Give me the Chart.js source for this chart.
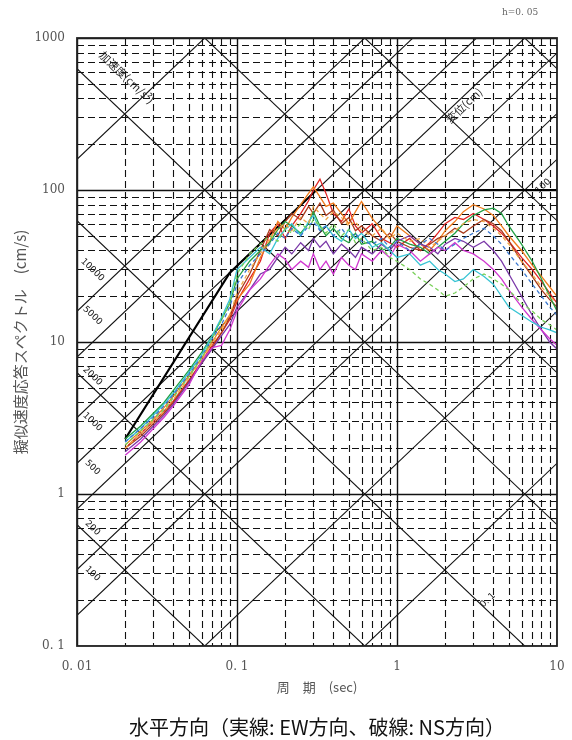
<!DOCTYPE html>
<html>
<head>
<meta charset="utf-8">
<script src="https://cdn.jsdelivr.net/npm/chart.js@4.4.1/dist/chart.umd.min.js"></script>
<style>
  html, body { margin: 0; padding: 0; background: #fff; }
  canvas { display: block; }
</style>
</head>
<body>
<canvas id="spectrum" width="572" height="740"></canvas>
<script>
// periods (sec)
var periods = [0.02, 0.025, 0.03, 0.035, 0.04, 0.05, 0.06, 0.07, 0.08, 0.09,
  0.1, 0.12, 0.14, 0.16, 0.18, 0.2, 0.22, 0.25, 0.28, 0.3,
  0.33, 0.36, 0.4, 0.45, 0.5, 0.55, 0.6, 0.7, 0.8, 0.9,
  1.0, 1.2, 1.4, 1.6, 1.8, 2.0, 2.3, 2.6, 3.0, 3.5,
  4.0, 4.5, 5.0, 6.0, 7.0, 8.0, 9.0, 10]

// pseudo velocity response (cm/s), one array per record
var redEW = [2.0, 2.5, 3.0, 3.5, 4.1, 5.6, 7.4, 9.5, 11.5, 14, 18.5, 26, 34, 52, 60, 48, 58, 70, 85, 100,
  118, 95, 70, 62, 75, 58, 52, 60, 48, 45, 42, 48, 40, 45, 52, 60, 66, 64, 70, 64, 58, 52, 46, 36, 30, 25, 21, 18]
var orangeEW = [2.1, 2.6, 3.1, 3.7, 4.4, 6.0, 7.8, 10, 12.5, 15, 19, 24, 36, 46, 62, 55, 66, 80, 95, 105,
  90, 78, 82, 70, 60, 72, 84, 65, 55, 48, 58, 50, 44, 40, 46, 54, 62, 72, 80, 75, 68, 58, 50, 40, 32, 27, 23, 20]
var greenEW = [2.3, 2.8, 3.4, 4.0, 4.8, 6.5, 8.5, 11, 14, 18, 26, 34, 40, 45, 55, 62, 58, 52, 60, 72,
  58, 50, 56, 48, 45, 52, 44, 46, 40, 42, 48, 44, 42, 38, 42, 46, 52, 60, 68, 74, 76, 70, 58, 44, 34, 26, 20, 16]
var cyanEW = [2.2, 2.7, 3.3, 3.9, 4.6, 6.3, 8.2, 11, 14.5, 19, 30, 36, 42, 38, 48, 55, 60, 50, 62, 68,
  55, 58, 50, 46, 55, 48, 52, 42, 45, 40, 36, 38, 32, 34, 30, 28, 25, 26, 30, 27, 24, 20, 17, 15, 13.5, 12.5, 12, 11.5]
var magentaEW = [1.8, 2.2, 2.7, 3.2, 3.8, 5.2, 7.5, 9.2, 9.5, 12, 16, 22, 26, 32, 38, 35, 30, 34, 31, 38,
  30, 34, 28, 36, 32, 30, 38, 34, 40, 36, 44, 40, 34, 38, 42, 40, 45, 40, 38, 34, 30, 26, 22, 17, 14, 12, 10.5, 9.5]
var purpleEW = [1.9, 2.3, 2.8, 3.3, 3.9, 5.4, 7.2, 9.0, 11, 13, 17, 22, 28, 30, 36, 42, 38, 45, 40, 48,
  42, 46, 38, 44, 40, 36, 42, 38, 44, 40, 46, 50, 44, 42, 38, 44, 48, 46, 42, 46, 40, 34, 28, 20, 15, 12, 10, 9]
var brownEW = [2.0, 2.4, 2.9, 3.4, 4.0, 5.5, 7.2, 9.2, 11.5, 14.5, 20, 28, 40, 55, 50, 62, 70, 64, 78, 70,
  82, 68, 74, 60, 66, 54, 58, 50, 46, 52, 46, 42, 40, 44, 48, 50, 56, 52, 58, 64, 60, 54, 46, 34, 27, 22, 19, 17]
var limeNS = [2.1, 2.6, 3.1, 3.6, 4.3, 5.9, 7.8, 10.5, 14, 18, 28, 38, 44, 50, 46, 56, 52, 60, 55, 64,
  58, 52, 60, 50, 55, 45, 48, 40, 42, 36, 34, 30, 26, 24, 22, 20, 21, 23, 26, 28, 26, 24, 22, 18, 16, 14, 13, 12]
var blueNS = [2.2, 2.7, 3.2, 3.8, 4.5, 6.1, 8.0, 10.5, 13, 17, 24, 32, 38, 44, 52, 48, 56, 50, 58, 62,
  54, 58, 50, 56, 48, 52, 46, 44, 48, 42, 46, 40, 44, 48, 44, 40, 44, 48, 52, 56, 50, 44, 38, 30, 24, 20, 17, 15]
var amberNS = [2.0, 2.5, 3.0, 3.5, 4.2, 5.8, 7.6, 9.8, 12, 15, 21, 30, 38, 48, 56, 60, 54, 66, 60, 78,
  70, 64, 72, 66, 58, 62, 54, 50, 56, 48, 52, 46, 48, 42, 46, 50, 54, 60, 64, 62, 56, 50, 44, 34, 28, 23, 20, 18]

// design spectrum (thick black)
var designPeriods = [0.02, 0.09, 0.314, 10]
var designValues = [2.3, 28.5, 100, 100]

// tripartite grid: acceleration (cm/s2) and displacement (cm) lines
var accelLines = [1, 10, 100, 200, 500, 1000, 2000, 5000, 10000, 100000]
var dispLines = [0.001, 0.01, 0.1, 1, 10, 100, 1000]
var accelLabels = [10000, 5000, 2000, 1000, 500, 200, 100]

// axis ticks
var periodTicks = [0.01, 0.1, 1, 10]
var periodTickLabels = ["0. 01", "0. 1", "1", "10"]
var svTicks = [0.1, 1, 10, 100, 1000]
var svTickLabels = ["0. 1", "1", "10", "100", "1000"]
var minorSteps = [2, 3, 4, 5, 6, 7, 8, 9]

var TWO_PI = 2 * Math.PI

function pairs(xs, ys) {
  return xs.map(function (t, i) { return {x: t, y: ys[i]} })
}

function record(values, color, dashed) {
  return {
    data: pairs(periods, values),
    showLine: true,
    borderColor: color,
    borderWidth: 1.3,
    borderDash: dashed ? [4, 3] : [],
    pointRadius: 0,
    tension: 0
  }
}

function noPad(s) {
  s.paddingLeft = 0
  s.paddingRight = 0
  s.paddingTop = 0
  s.paddingBottom = 0
}

var tripartite = {
  id: "tripartite",
  beforeDatasetsDraw: function (chart) {
    var ctx = chart.ctx
    var a = chart.chartArea
    var xs = chart.scales.x
    var ys = chart.scales.y
    ctx.save()
    ctx.beginPath()
    ctx.rect(a.left, a.top, a.right - a.left, a.bottom - a.top)
    ctx.clip()

    // dashed minor grid
    ctx.strokeStyle = "#111"
    ctx.lineWidth = 1.1
    ctx.setLineDash([7, 4])
    periodTicks.slice(0, -1).forEach(function (d) {
      minorSteps.forEach(function (m) {
        var px = Math.round(xs.getPixelForValue(d * m)) + 0.5
        ctx.beginPath(); ctx.moveTo(px, a.top); ctx.lineTo(px, a.bottom); ctx.stroke()
      })
    })
    svTicks.slice(0, -1).forEach(function (d) {
      minorSteps.forEach(function (m) {
        var py = Math.round(ys.getPixelForValue(d * m)) + 0.5
        ctx.beginPath(); ctx.moveTo(a.left, py); ctx.lineTo(a.right, py); ctx.stroke()
      })
    })

    // solid decade lines
    ctx.setLineDash([])
    ctx.lineWidth = 1.4
    periodTicks.forEach(function (v) {
      var px = Math.round(xs.getPixelForValue(v)) + 0.5
      ctx.beginPath(); ctx.moveTo(px, a.top); ctx.lineTo(px, a.bottom); ctx.stroke()
    })
    svTicks.forEach(function (v) {
      var py = Math.round(ys.getPixelForValue(v)) + 0.5
      ctx.beginPath(); ctx.moveTo(a.left, py); ctx.lineTo(a.right, py); ctx.stroke()
    })

    // diagonals
    ctx.lineWidth = 1.1
    var t0 = 0.01, t1 = 10
    accelLines.forEach(function (sa) {
      ctx.beginPath()
      ctx.moveTo(xs.getPixelForValue(t0), ys.getPixelForValue(sa * t0 / TWO_PI))
      ctx.lineTo(xs.getPixelForValue(t1), ys.getPixelForValue(sa * t1 / TWO_PI))
      ctx.stroke()
    })
    dispLines.forEach(function (sd) {
      ctx.beginPath()
      ctx.moveTo(xs.getPixelForValue(t0), ys.getPixelForValue(TWO_PI * sd / t0))
      ctx.lineTo(xs.getPixelForValue(t1), ys.getPixelForValue(TWO_PI * sd / t1))
      ctx.stroke()
    })

    // slope of the diagonals in pixels
    var ang = Math.atan2(ys.getPixelForValue(1) - ys.getPixelForValue(10),
      xs.getPixelForValue(1) - xs.getPixelForValue(0.1))

    function rotText(text, t, sv, rot, font) {
      ctx.save()
      ctx.translate(xs.getPixelForValue(t), ys.getPixelForValue(sv))
      ctx.rotate(rot)
      ctx.font = font
      ctx.fillStyle = "#222"
      ctx.textAlign = "center"
      ctx.textBaseline = "middle"
      ctx.fillText(text, 0, 0)
      ctx.restore()
    }

    accelLabels.forEach(function (sa) {
      rotText(String(sa), 0.0125, 1.5 * sa * 0.0125 / TWO_PI, ang, "9px 'DejaVu Sans'")
    })
    rotText("加速度(cm/s²)", 0.0205, 550, ang, "11px 'Noto Sans CJK JP'")
    rotText("変位(cm)", 2.62, 360, -ang, "11px 'Noto Sans CJK JP'")
    rotText("100", 8.2, 106, -ang, "9px 'DejaVu Sans'")
    rotText("0. 1", 3.7, 0.2, -ang, "9px 'DejaVu Sans'")

    ctx.restore()
  },
  afterDraw: function (chart) {
    var ctx = chart.ctx
    var a = chart.chartArea
    ctx.save()
    ctx.strokeStyle = "#222"
    ctx.lineWidth = 1.8
    ctx.strokeRect(a.left, a.top, a.right - a.left, a.bottom - a.top)
    ctx.font = "9px 'DejaVu Serif'"
    ctx.fillStyle = "#666"
    ctx.textAlign = "center"
    ctx.textBaseline = "middle"
    ctx.fillText("h=0. 05", 520, 13)
    ctx.restore()
  }
}

var datasets = [
  record(limeNS, "#78d058", true),
  record(blueNS, "#3a78d0", true),
  record(amberNS, "#f0a848", true),
  record(cyanEW, "#38c4d4", false),
  record(magentaEW, "#d038d0", false),
  record(purpleEW, "#7a38a8", false),
  record(greenEW, "#22a044", false),
  record(brownEW, "#a83a1c", false),
  record(orangeEW, "#f07c1c", false),
  record(redEW, "#e02424", false),
  {
    data: pairs(designPeriods, designValues),
    showLine: true,
    borderColor: "#000",
    borderWidth: 2.2,
    pointRadius: 0
  }
]

var tickFont = {family: "'DejaVu Serif'", size: 12}

new Chart(document.getElementById("spectrum").getContext("2d"), {
  type: "scatter",
  data: {datasets: datasets},
  options: {
    responsive: false,
    animation: false,
    devicePixelRatio: 1,
    layout: {padding: {top: 38, right: 15, left: 0, bottom: 0}},
    plugins: {
      legend: {display: false},
      tooltip: {enabled: false},
      title: {
        display: true,
        position: "bottom",
        fullSize: false,
        text: "水平方向（実線: EW方向、破線: NS方向）",
        color: "#111",
        font: {family: "'Noto Sans CJK JP'", size: 20, weight: "normal"},
        padding: {top: 0, bottom: 1}
      }
    },
    scales: {
      x: {
        type: "logarithmic",
        min: 0.01,
        max: 10,
        afterBuildTicks: function (s) { s.ticks = periodTicks.map(function (v) { return {value: v} }) },
        afterFit: function (s) { s.height = 69; noPad(s) },
        grid: {display: false, drawTicks: false},
        border: {display: false},
        ticks: {
          autoSkip: false, maxRotation: 0, padding: 14, font: tickFont, color: "#555",
          callback: function (v, i) { return periodTickLabels[i] }
        },
        title: {
          display: true, text: "周　期　(sec)", color: "#555",
          font: {family: "'Noto Sans CJK JP'", size: 13},
          padding: {top: 0, bottom: 20}
        }
      },
      y: {
        type: "logarithmic",
        min: 0.1,
        max: 1000,
        afterBuildTicks: function (s) { s.ticks = svTicks.map(function (v) { return {value: v} }) },
        afterFit: function (s) { s.width = 77; noPad(s) },
        grid: {display: false, drawTicks: false},
        border: {display: false},
        ticks: {
          autoSkip: false, padding: 12, font: tickFont, color: "#555",
          callback: function (v, i) { return svTickLabels[i] }
        },
        title: {
          display: true, text: "擬似速度応答スペクトル　(cm/s)", color: "#555",
          font: {family: "'Noto Sans CJK JP'", size: 15},
          padding: {top: 11, bottom: 0}
        }
      }
    }
  },
  plugins: [tripartite]
})
</script>
</body>
</html>
